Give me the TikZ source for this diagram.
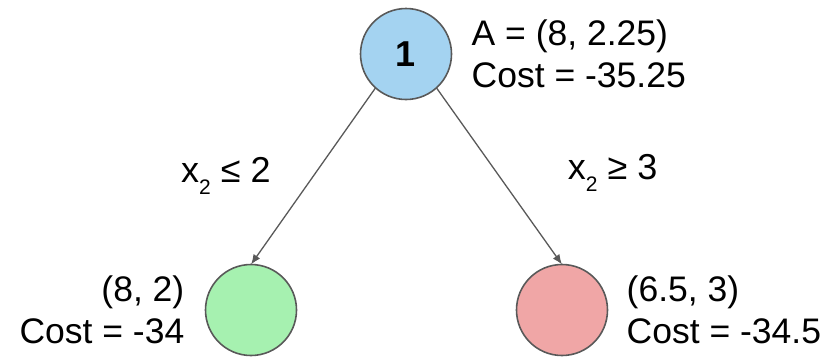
\documentclass[tikz,border=0pt]{standalone}
\usepackage{fontspec}
\setmainfont{Liberation Sans}
\usetikzlibrary{positioning}
\usetikzlibrary{arrows.meta}

\definecolor{rootblue}{HTML}{A4D3F1}
\definecolor{leafgreen}{HTML}{A6F1B0}
\definecolor{leafred}{HTML}{F0A6A6}
\definecolor{edgegray}{HTML}{595959}

\newcommand{\lowidx}[1]{\raisebox{-12pt}{\fontsize{21}{21}\selectfont #1}}

\begin{document}
\begin{tikzpicture}[
            x = 1pt, y = -1pt,
            state/.style = {
                draw = edgegray,
                circle,
                fill = #1,
                line width = 1.6pt,
                minimum size = 91pt,
                inner sep = 0pt,
                outer sep = 0pt,
                font = \fontsize{36}{36}\selectfont\bfseries
            },
            state/.default = rootblue,
            info/.style = {
                font = \fontsize{35.5}{42}\selectfont,
                inner sep = 0pt
            },
            cond/.style = {
                font = \fontsize{36}{36}\selectfont,
                inner sep = 0pt
            },
            branch/.style = {
                draw = edgegray,
                line width = 1.3pt,
                -{Latex[length=10pt, width=8pt]}
            }
            ]
            \useasboundingbox (0,0) rectangle (837,357);

            \node[state] (root) at (406,54) {1};
            \node[state=leafgreen] (low) at (251,310) {};
            \node[state=leafred] (high) at (562,310) {};

            \node[info, align=left, right=20pt of root] (rootinfo) {A = (8, 2.25)\\Cost = -35.25};
            \node[info, align=right, left=21pt of low] (lowinfo) {(8, 2)\\Cost = -34};
            \node[info, align=left, right=19pt of high] (highinfo) {(6.5, 3)\\Cost = -34.5};

            \draw[branch] (root.228) -- node[cond, left=42pt] (lowcut) {x\lowidx{2} ≤ 2} (low.north);
            \draw[branch] (root.-48) -- node[cond, right=68pt, yshift=3pt] (highcut) {x\lowidx{2} ≥ 3} (high.north);
        \end{tikzpicture}
\end{document}
